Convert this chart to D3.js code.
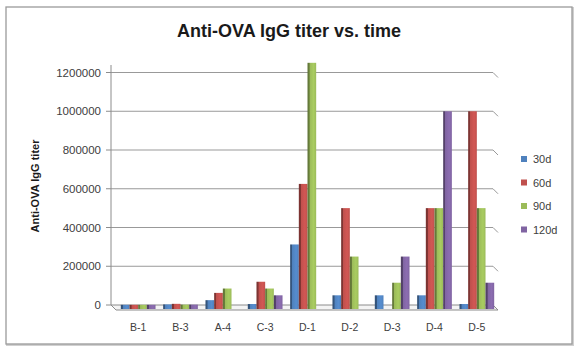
<!DOCTYPE html>
<html>
<head>
<meta charset="utf-8">
<script src="https://cdn.jsdelivr.net/npm/d3@7"></script>
<style>
  body { margin: 0; background: #fff; }
  text { font-family: "Liberation Sans", Arial, sans-serif; }
</style>
</head>
<body>
<div id="chart"></div>
<script>
var width = 581,
    height = 351;

// data
var categories = ['B-1', 'B-3', 'A-4', 'C-3', 'D-1', 'D-2', 'D-3', 'D-4', 'D-5'];
var seriesNames = ['30d', '60d', '90d', '120d'];
var d30 = [1000, 3000, 25000, 5000, 312500, 50000, 50000, 50000, 5000];
var d60 = [1000, 6000, 62500, 120000, 625000, 500000, 0, 500000, 1000000];
var d90 = [1000, 2000, 85000, 85000, 1250000, 250000, 115000, 500000, 500000];
var d120 = [1000, 2000, 0, 50000, 0, 0, 250000, 1000000, 115000];
var yTicks = [0, 200000, 400000, 600000, 800000, 1000000, 1200000];

var colors = ['#4f81bd', '#c0504d', '#9bbb59', '#8064a2'];
var series = [d30, d60, d90, d120];

var svg = d3.select('#chart')
    .append('svg')
    .attr('width', width)
    .attr('height', height);

// outer frame
svg.append('rect')
    .attr('x', 7).attr('y', 8)
    .attr('width', 566).attr('height', 337)
    .attr('fill', 'none')
    .attr('stroke', '#d0d0d0')
    .attr('stroke-width', 2);
svg.append('rect')
    .attr('x', 6).attr('y', 7)
    .attr('width', 566).attr('height', 337)
    .attr('fill', '#fff')
    .attr('stroke', '#9a9a9a')
    .attr('stroke-width', 1.3);

// scales
var depth = 5;
var yscale = d3.scaleLinear()
    .domain([0, 1200000])
    .range([305, 72.5]);

var xscale = d3.scaleBand()
    .domain(categories)
    .range([117, 498])
    .paddingInner(0.18)
    .paddingOuter(0.09);

var xsub = d3.scaleBand()
    .domain(seriesNames)
    .range([0, xscale.bandwidth()]);

var backLeft = 111,
    backRight = 493;

// gridlines on back wall + side slant
yTicks.forEach(function (t) {
    var y = yscale(t);
    if (t > 0) {
        svg.append('path')
            .attr('d', 'M' + backLeft + ',' + y + 'H' + backRight + 'l' + depth + ',' + depth)
            .attr('fill', 'none')
            .attr('stroke', '#999')
            .attr('stroke-width', 1);
    }
});

// floor
svg.append('path')
    .attr('d', 'M' + backLeft + ',305H' + backRight + 'l' + depth + ',' + depth + 'H' + (backLeft + depth) + 'Z')
    .attr('fill', '#f4f4f4')
    .attr('stroke', '#8c8c8c')
    .attr('stroke-width', 1);

// y axis
svg.append('line')
    .attr('x1', backLeft).attr('x2', backLeft)
    .attr('y1', 65).attr('y2', 305)
    .attr('stroke', '#8c8c8c');

var yaxis = svg.append('g');
yTicks.forEach(function (t) {
    var y = yscale(t);
    yaxis.append('line')
        .attr('x1', backLeft - 5).attr('x2', backLeft)
        .attr('y1', y).attr('y2', y)
        .attr('stroke', '#8c8c8c');
    yaxis.append('text')
        .attr('x', backLeft - 10)
        .attr('y', y + 4)
        .attr('text-anchor', 'end')
        .attr('font-size', '11.5px')
        .attr('fill', '#404040')
        .text(t);
});

// gradients for 3d-ish bars
var defs = svg.append('defs');
colors.forEach(function (c, i) {
    var g = defs.append('linearGradient')
        .attr('id', 'grad' + i)
        .attr('x1', 0).attr('x2', 1).attr('y1', 0).attr('y2', 0);
    g.append('stop').attr('offset', '0%').attr('stop-color', d3.color(c).darker(1.3));
    g.append('stop').attr('offset', '22%').attr('stop-color', d3.color(c).darker(1.1));
    g.append('stop').attr('offset', '25%').attr('stop-color', c);
    g.append('stop').attr('offset', '70%').attr('stop-color', d3.color(c).brighter(0.25));
    g.append('stop').attr('offset', '100%').attr('stop-color', c);
});

// bars (skip zero values, like the original)
var floorY = 305 + depth - 1;
var barData = [];
series.forEach(function (vals, si) {
    vals.forEach(function (v, ci) {
        if (v > 0) barData.push({ cat: categories[ci], s: si, v: v });
    });
});

svg.append('g').selectAll('rect')
    .data(barData)
    .enter()
    .append('rect')
    .attr('x', d => xscale(d.cat) + xsub(seriesNames[d.s]))
    .attr('y', d => yscale(d.v))
    .attr('width', xsub.bandwidth())
    .attr('height', d => floorY - yscale(d.v))
    .attr('fill', d => 'url(#grad' + d.s + ')');

// category labels
svg.append('g').selectAll('text')
    .data(categories)
    .enter()
    .append('text')
    .attr('x', d => xscale(d) + xscale.bandwidth() / 2)
    .attr('y', 331)
    .attr('text-anchor', 'middle')
    .attr('font-size', '10.5px')
    .attr('fill', '#404040')
    .text(d => d);

// title
svg.append('text')
    .attr('x', 289)
    .attr('y', 37)
    .attr('text-anchor', 'middle')
    .attr('font-size', '18px')
    .attr('font-weight', 'bold')
    .attr('fill', '#1a1a1a')
    .text('Anti-OVA IgG titer vs. time');

// y axis title
svg.append('text')
    .attr('transform', 'translate(39,186) rotate(-90)')
    .attr('text-anchor', 'middle')
    .attr('font-size', '11px')
    .attr('font-weight', 'bold')
    .attr('fill', '#1a1a1a')
    .text('Anti-OVA IgG titer');

// legend
var legend = svg.append('g');
seriesNames.forEach(function (s, i) {
    var y = 159 + i * 23.5;
    legend.append('rect')
        .attr('x', 521).attr('y', y - 3)
        .attr('width', 6).attr('height', 6)
        .attr('fill', colors[i]);
    legend.append('text')
        .attr('x', 533).attr('y', y + 4)
        .attr('font-size', '11px')
        .attr('fill', '#404040')
        .text(s);
});
</script>
</body>
</html>
